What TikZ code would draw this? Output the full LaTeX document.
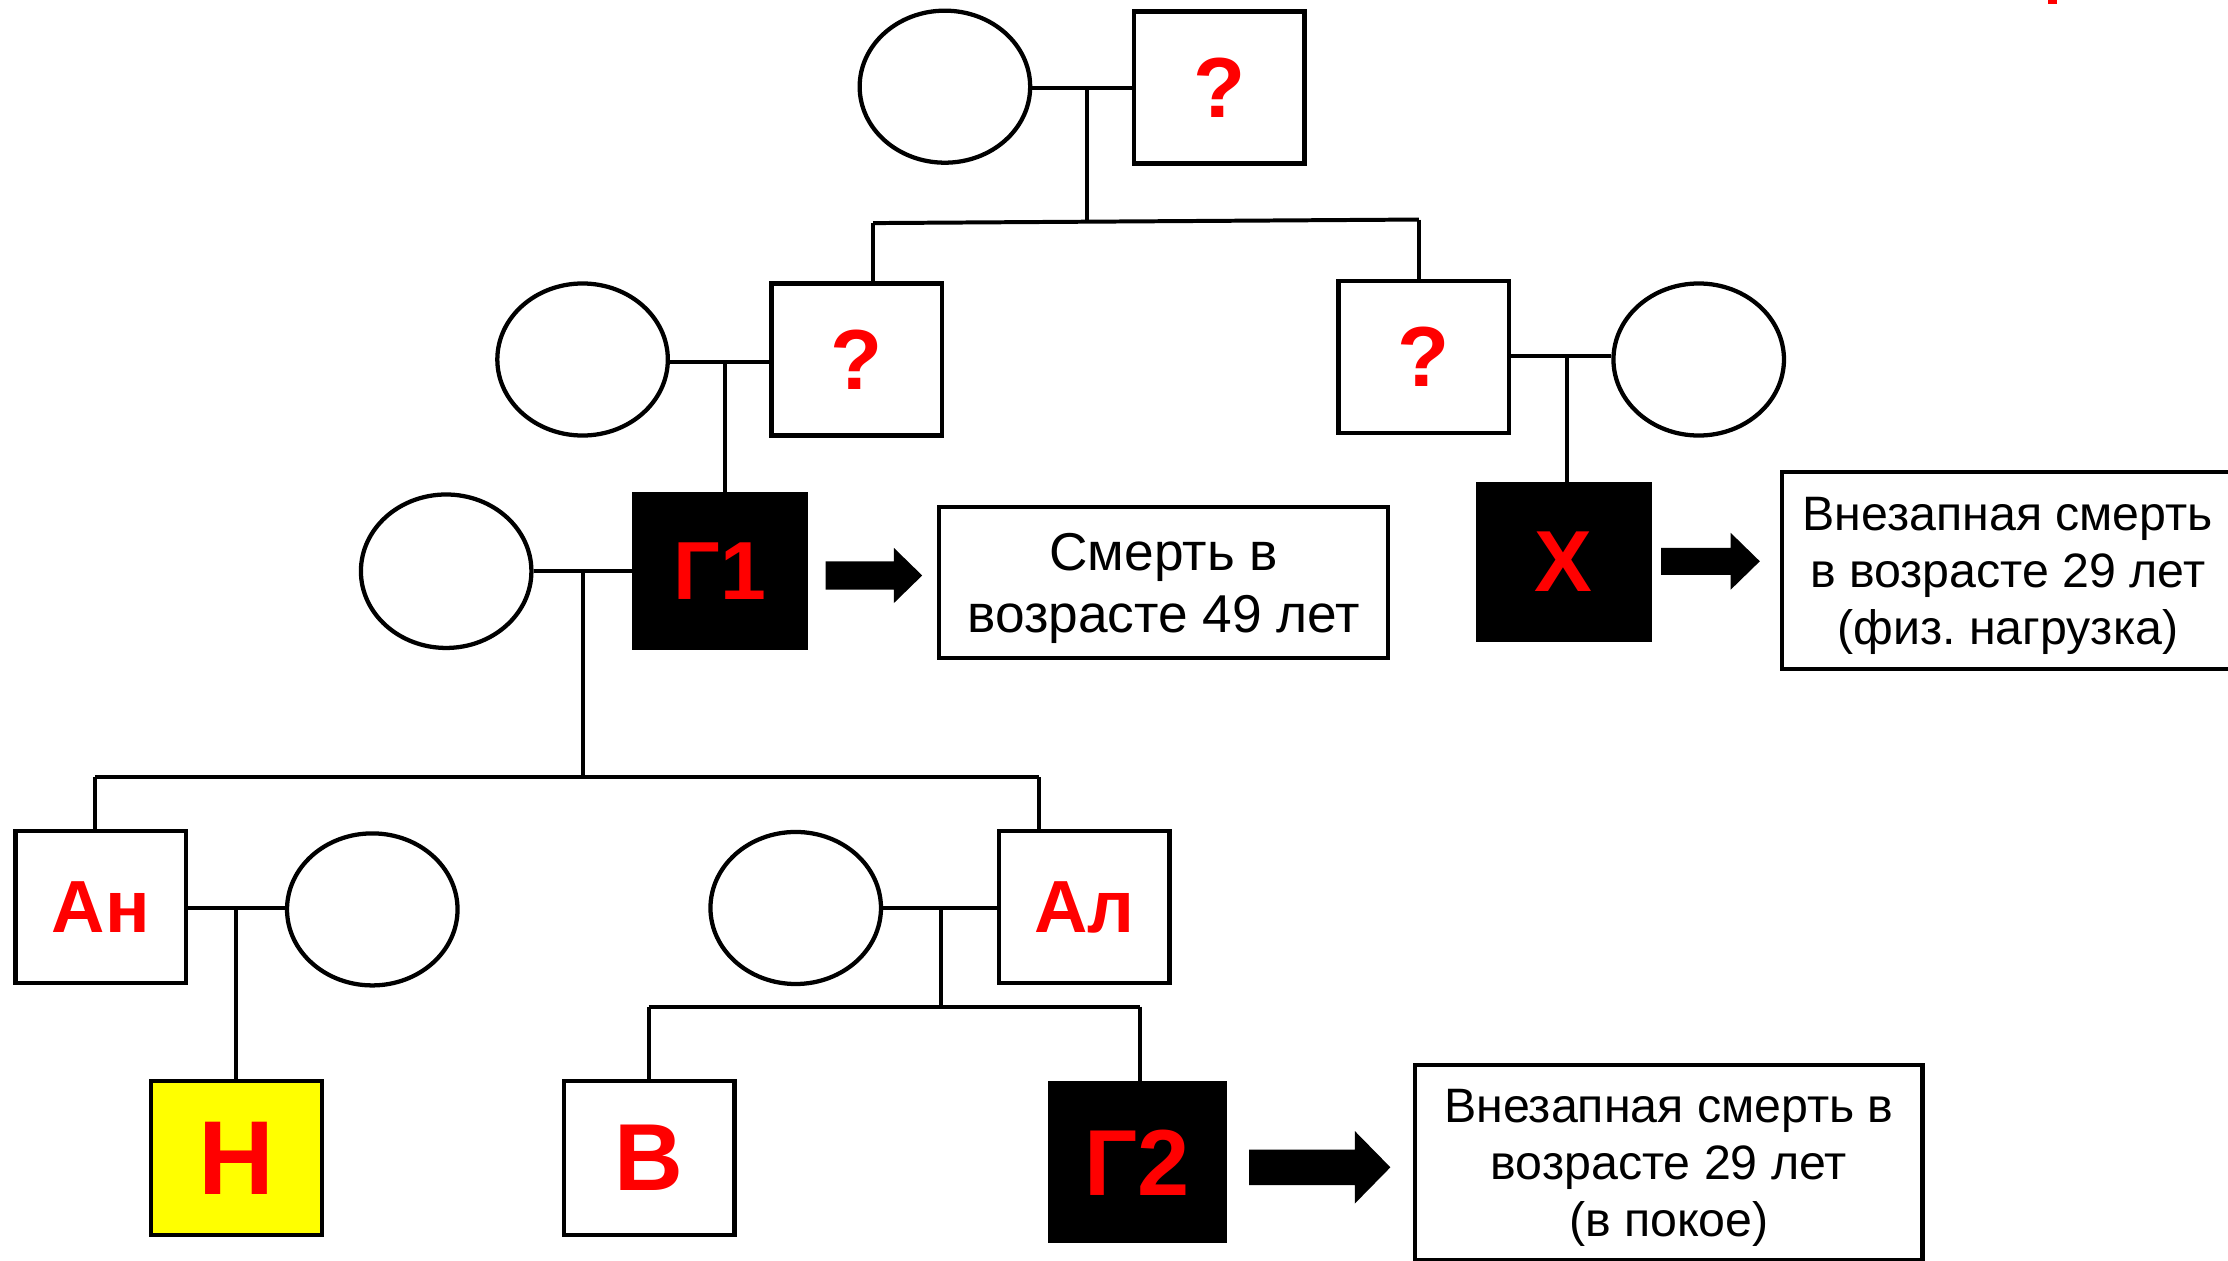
\documentclass[tikz,border=0pt]{standalone}
\usepackage{fontspec}
\setmainfont{Liberation Sans}
\usetikzlibrary{shapes.geometric}
\definecolor{lblred}{RGB}{255,0,0}
\definecolor{ylw}{RGB}{255,255,0}
\frenchspacing
\begin{document}
\begin{tikzpicture}[x=1pt,y=-1pt,
  ln/.style={line width=2.8pt},
  sq/.style={draw, line width=3pt, rectangle, minimum width=120pt, minimum height=107pt, inner sep=0pt},
  fem/.style={draw, line width=3pt, ellipse, minimum width=120pt, minimum height=107pt, inner sep=0pt},
  aff/.style={sq, fill=black},
  lbl/.style={text=lblred, font=\bfseries\fontsize{#1}{#1}\selectfont},
  txtbox/.style={draw, line width=3pt, rectangle, inner sep=0pt, fill=white},
  boxtext/.style 2 args={align=center, inner sep=0pt, font=\fontsize{#1}{#2}\selectfont},
  barrow/.style={fill=black}
]
\useasboundingbox (0,0) rectangle (1568,887);
\clip (0,0) rectangle (1568,887);
\fill[white] (0,0) rectangle (1568,887);

% generation I
\node[fem] (gm) at (665,61) {};
\node[sq, lbl=60] (gf) at (858,61.5) {?};
% generation II
\node[fem] (c1) at (410,253) {};
\node[sq, lbl=60] (q1) at (603,253) {?};
\node[sq, lbl=60] (q2) at (1002,251) {?};
\node[fem] (c2) at (1195.5,253) {};
% generation III
\node[fem, minimum height=108pt] (c3) at (314,402) {};
\node[aff, lbl=58, minimum width=121pt, minimum height=108pt] (g1) at (506.5,402) {Г1};
\node[aff, lbl=61, minimum width=121pt, minimum height=109pt] (x) at (1100.5,395.5) {Х};
\node[txtbox, minimum width=316pt, minimum height=106pt] (b1) at (819,410) {};
\node[boxtext={37.5}{44}] (b1t) at ([yshift=-4pt]b1.center) {Смерть в\\возрасте 49 лет};
\node[txtbox, minimum width=318pt, minimum height=139pt] (b2) at (1413,401.5) {};
\node[boxtext={34}{40}] (b2t) at ([yshift=-4pt]b2.center) {Внезапная смерть\\в возрасте 29 лет\\(физ. нагрузка)};
% generation IV
\node[sq, lbl=52] (an) at (71,638.5) {Ан};
\node[fem] (c4) at (262,640) {};
\node[fem] (c5) at (560,639) {};
\node[sq, lbl=52] (al) at (763,638.5) {Ал};
% generation V
\node[sq, lbl=74, fill=ylw, minimum height=108pt] (n) at (166.5,815) {Н};
\node[sq, lbl=67, minimum height=108pt] (v) at (457,815) {В};
\node[aff, lbl=66, minimum width=123pt, minimum height=111pt] (g2) at (800.5,818) {Г2};
\node[txtbox, minimum width=357pt, minimum height=137pt] (b3) at (1174.5,818) {};
\node[boxtext={34}{40}] (b3t) at ([yshift=-4pt]b3.center) {Внезапная смерть в\\возрасте 29 лет\\(в покое)};

% junction coordinates
\coordinate (m1) at (765,62);
\coordinate (s1l) at (614.5,157);
\coordinate (s1r) at (998.5,154.5);
\coordinate (s1m) at (765,155.8);
\coordinate (m2) at (510.5,254.5);
\coordinate (m3) at (1102.5,250.5);
\coordinate (m4) at (410,402);
\coordinate (s2l) at (67,547);
\coordinate (s2r) at (731.5,547);
\coordinate (m5) at (166,639);
\coordinate (m6) at (662.5,638.8);
\coordinate (s3l) at (456.5,708.4);
\coordinate (s3r) at (802,708.4);

% couples
\draw[ln] (gm.east |- m1) -- (gf.west |- m1);
\draw[ln] (c1.east |- m2) -- (q1.west |- m2);
\draw[ln] (q2.east |- m3) -- (c2.west |- m3);
\draw[ln] (c3.east |- m4) -- (g1.west |- m4);
\draw[ln] (an.east |- m5) -- (c4.west |- m5);
\draw[ln] (c5.east |- m6) -- (al.west |- m6);

% descent lines
\draw[ln] (m1) -- (s1m);
\draw[ln] (s1l) -- (s1r);
\draw[ln] (s1l) -- (s1l |- q1.north);
\draw[ln] (s1r) -- (s1r |- q2.north);
\draw[ln] (m2) -- (m2 |- g1.north);
\draw[ln] (m3) -- (m3 |- x.north);
\draw[ln] (m4) -- (m4 |- s2l);
\draw[ln] (s2l) -- (s2r);
\draw[ln] (s2l) -- (s2l |- an.north);
\draw[ln] (s2r) -- (s2r |- al.north);
\draw[ln] (m5) -- (m5 |- n.north);
\draw[ln] (m6) -- (m6 |- s3l);
\draw[ln] (s3l) -- (s3r);
\draw[ln] (s3l) -- (s3l |- v.north);
\draw[ln] (s3r) -- (s3r |- g2.north);

% block arrows
\coordinate (a1) at (581,405);
\coordinate (a2) at (1169,395);
\coordinate (a3) at (879,821.5);
\fill[barrow] (a1) ++(0,-10) -- ++(48,0) -- ++(0,-9.5) -- ++(20,19.5) -- ++(-20,19.5) -- ++(0,-9.5) -- ++(-48,0) -- cycle;
\fill[barrow] (a2) ++(0,-9.5) -- ++(49,0) -- ++(0,-10.5) -- ++(20.5,20) -- ++(-20.5,20) -- ++(0,-10.5) -- ++(-49,0) -- cycle;
\fill[barrow] (a3) ++(0,-12.5) -- ++(74.5,0) -- ++(0,-13) -- ++(25,25.5) -- ++(-25,25.5) -- ++(0,-13) -- ++(-74.5,0) -- cycle;

% clipped red fragment at top edge
\fill[lblred] (1441,0) rectangle (1447.5,2.5);
\end{tikzpicture}
\end{document}
